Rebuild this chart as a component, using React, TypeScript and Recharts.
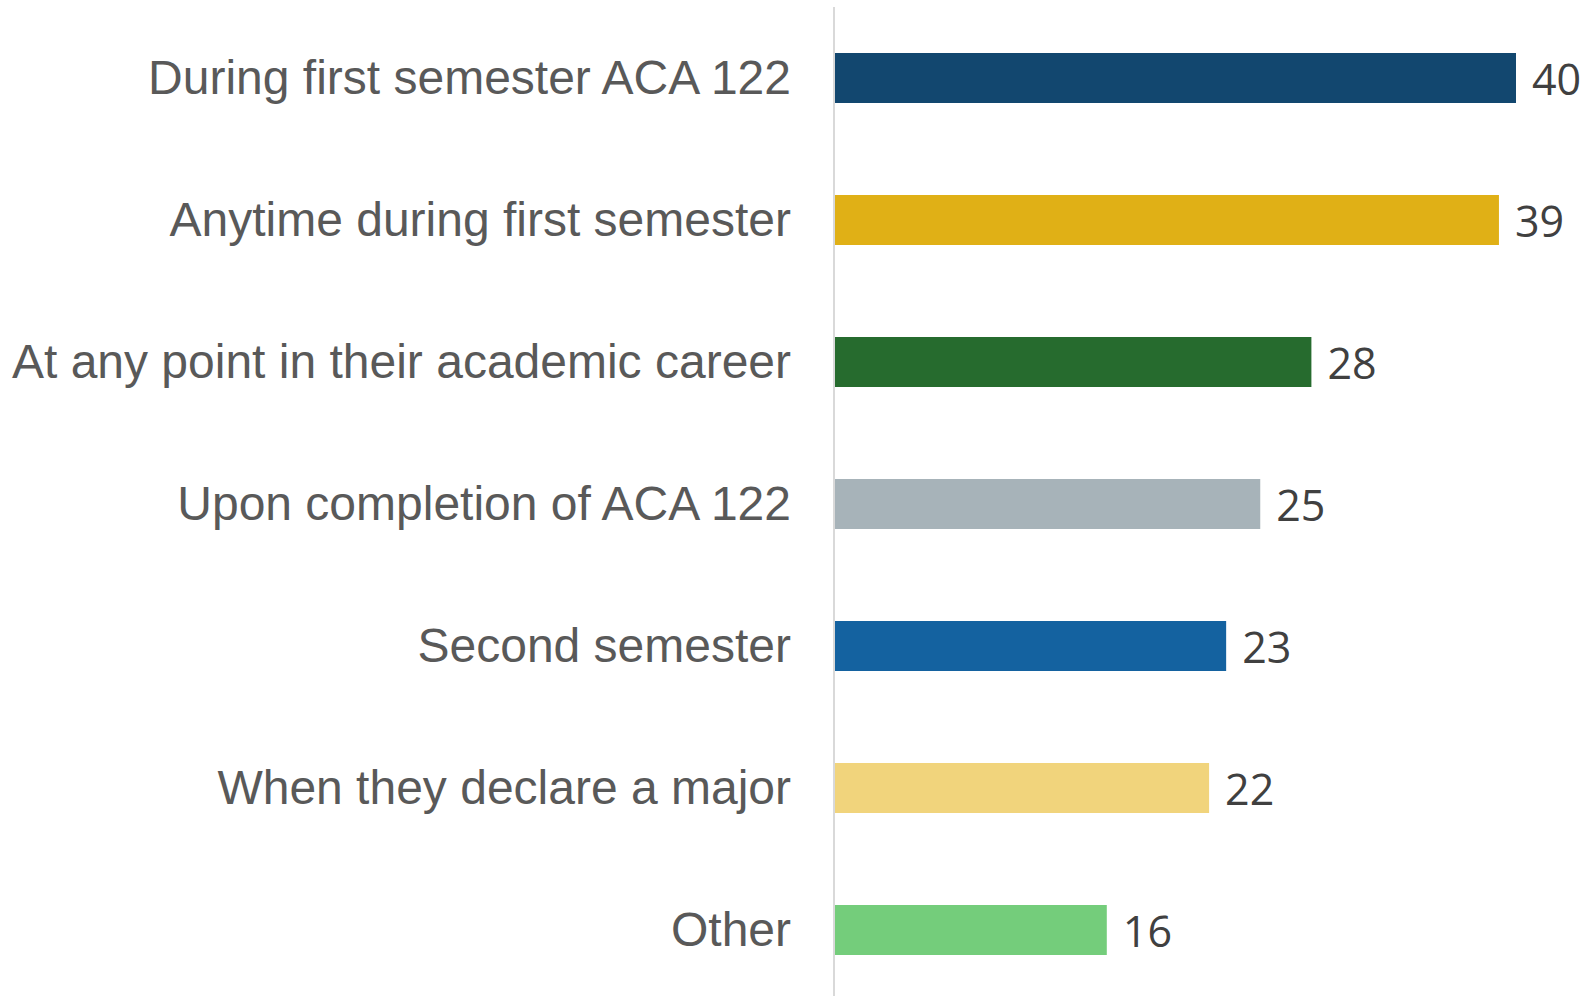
import React from 'react';
import { BarChart, Bar, XAxis, YAxis, Cell, LabelList } from 'recharts';

const categories = [
  'During first semester ACA 122',
  'Anytime during first semester',
  'At any point in their academic career',
  'Upon completion of ACA 122',
  'Second semester',
  'When they declare a major',
  'Other',
];
const values = [40, 39, 28, 25, 23, 22, 16];
const colors = ['#12476F', '#E0B016', '#266B2E', '#A7B3B9', '#1462A0', '#F1D47C', '#74CD7B'];

const data = categories.map((name, i) => ({ name, value: values[i] }));

export default function App() {
  return (
    <div style={{ position: 'absolute', left: 0, top: 0, width: 1593, height: 996, overflow: 'hidden', background: '#fff' }}>
      <BarChart
        width={1593}
        height={1001}
        data={data}
        layout="vertical"
        margin={{ top: 7, right: 77, bottom: 0, left: 0 }}
        barCategoryGap={46}
      >
        <XAxis type="number" domain={[0, 40]} hide />
        <YAxis
          type="category"
          dataKey="name"
          width={834}
          tickLine={false}
          axisLine={{ stroke: '#D9D9D9', strokeWidth: 2 }}
          tickMargin={37}
          interval={0}
          tick={{ fill: '#595959', fontSize: 48, fontFamily: '"Liberation Sans", Arial, sans-serif', dy: -1 }}
        />
        <Bar dataKey="value" barSize={50} isAnimationActive={false}>
          {data.map((d, i) => (
            <Cell key={d.name} fill={colors[i]} />
          ))}
          <LabelList
            dataKey="value"
            position="right"
            offset={16}
            dy={2}
            style={{ fill: '#404040', fontSize: 43, fontFamily: '"Open Sans", sans-serif' }}
          />
        </Bar>
      </BarChart>
    </div>
  );
}
